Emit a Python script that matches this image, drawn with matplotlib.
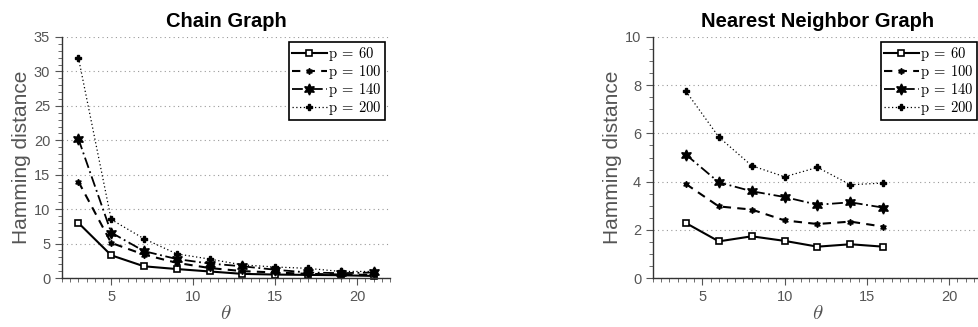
import matplotlib.pyplot as plt
import numpy as np
from matplotlib.ticker import MultipleLocator

plt.rcParams['mathtext.fontset'] = 'cm'
plt.rcParams['font.family'] = ['Liberation Sans', 'DejaVu Sans']

p_values = [60, 100, 140, 200]

# Chain graph
chain_theta = [3, 5, 7, 9, 11, 13, 15, 17, 19, 21]
chain_p60 = [8.0, 3.3, 1.7, 1.3, 0.95, 0.6, 0.5, 0.45, 0.4, 0.3]
chain_p100 = [14.0, 5.1, 3.4, 2.2, 1.45, 1.0, 0.8, 0.6, 0.5, 0.45]
chain_p140 = [20.2, 6.6, 3.9, 2.75, 2.1, 1.7, 1.2, 0.8, 0.7, 0.8]
chain_p200 = [32.0, 8.5, 5.7, 3.5, 2.75, 1.9, 1.6, 1.4, 0.95, 0.95]

# Nearest neighbor graph
nn_theta = [4, 6, 8, 10, 12, 14, 16]
nn_p60 = [2.28, 1.52, 1.73, 1.54, 1.30, 1.40, 1.30]
nn_p100 = [3.90, 2.97, 2.84, 2.39, 2.24, 2.34, 2.13]
nn_p140 = [5.12, 3.97, 3.60, 3.36, 3.04, 3.14, 2.92]
nn_p200 = [7.75, 5.85, 4.66, 4.20, 4.59, 3.87, 3.94]

styles = [
    dict(ls='-', lw=1.5, marker='s', ms=5, mfc='white', mew=1.2),
    dict(ls=(0, (4, 3)), lw=1.5, marker=(6, 1, 0), ms=4.5),
    dict(ls=(0, (6, 2, 1, 2)), lw=1.3, marker=(6, 1, 0), ms=8),
    dict(ls=(0, (1, 2)), lw=0.9, marker='P', ms=4.5),
]

fig = plt.figure(figsize=(9.79, 3.27), dpi=100)
ax1 = fig.add_axes([62 / 979, 49 / 327, 328 / 979, 241 / 327])
ax2 = fig.add_axes([653 / 979, 49 / 327, 329 / 979, 241 / 327])

panels = [
    (ax1, 'Chain Graph', chain_theta, [chain_p60, chain_p100, chain_p140, chain_p200], 35, 5, 1),
    (ax2, 'Nearest Neighbor Graph', nn_theta, [nn_p60, nn_p100, nn_p140, nn_p200], 10, 2, 0.5),
]

for ax, title, x, series, ymax, ymaj, ymin in panels:
    for y, st, p in zip(series, styles, p_values):
        ax.plot(x, y, color='black', mec='black', label=r'$\mathrm{p\:=\:%d}$' % p,
                clip_on=False, **st)
    ax.set_xlim(2, 22)
    ax.set_ylim(0, ymax)
    ax.xaxis.set_major_locator(MultipleLocator(5))
    ax.xaxis.set_minor_locator(MultipleLocator(0.5))
    ax.yaxis.set_major_locator(MultipleLocator(ymaj))
    ax.yaxis.set_minor_locator(MultipleLocator(ymin))
    ax.grid(axis='y', which='major', ls=(0, (1, 3)), color='#999999', lw=0.8)
    ax.set_axisbelow(True)
    for s in ['top', 'right']:
        ax.spines[s].set_visible(False)
    for s in ['left', 'bottom']:
        ax.spines[s].set_color('#333333')
        ax.spines[s].set_linewidth(1.0)
    ax.tick_params(which='major', direction='out', length=5, color='#555555',
                   labelcolor='#555555', labelsize=10.5)
    ax.tick_params(which='minor', direction='out', length=3, color='#555555')
    ax.set_title(title, fontsize=14.5, fontweight='bold', pad=7)
    ax.set_ylabel('Hamming distance', fontsize=15, color='#555555', labelpad=2)
    ax.set_xlabel(r'$\theta$', fontsize=15, color='#555555', labelpad=0)
    leg = ax.legend(loc='upper right', fontsize=10.5, frameon=True, fancybox=False,
                    handlelength=2.4, handletextpad=0.1, labelspacing=0.0,
                    borderpad=0.2, borderaxespad=0.35)
    leg.get_frame().set_edgecolor('black')
    leg.get_frame().set_linewidth(1.2)
    leg.get_frame().set_alpha(1)

fig.savefig('out.png', dpi=100)
